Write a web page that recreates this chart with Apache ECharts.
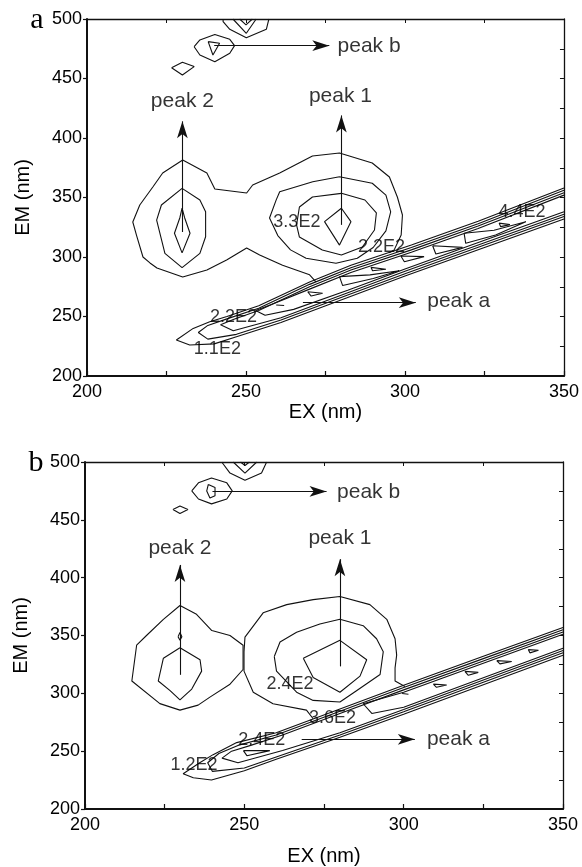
<!DOCTYPE html>
<html lang="en">
<head>
<meta charset="UTF-8">
<title>EEM contour plots</title>
<script src="https://cdn.jsdelivr.net/npm/echarts@6/dist/echarts.min.js"></script>
<style>
  html, body { margin: 0; background: #fff; }
  #chart { width: 582px; height: 867px; }
</style>
</head>
<body>
<div id="chart"></div>
<script>
// ---- axis ticks ----
var exLabels = [200, 250, 300, 350];
var emLabels = [200, 250, 300, 350, 400, 450, 500];

// ---- panel a : contour lines, [EX, EM] ----
var aBlob = [[272,279],[270,285],[261.5,293],[254.3,301.7],[250.2,307.6],[243.9,297.5],[237.7,289.1],[230.1,283.2],[222,290.8],[219.8,295],[217.6,300],[215.6,318],[214.4,329.4],[216.6,343.7],[220.7,358.8],[223.8,370.6],[230.1,381.5],[237.7,370.6],[240.2,357.1],[250.2,353.8],[252.1,360.5],[260.6,370.6],[270.9,384.9],[279.4,387.4],[289.7,379],[295.1,367.2],[297.6,350.4],[299.2,335.3],[298.8,318.5],[296.6,306],[295,303.5]];
var aP2Mid = [[229.9,357.7],[235.5,347.9],[237.3,338.1],[237.3,317],[235.5,303],[229.9,291.1],[224.5,303],[221.9,331],[223.4,343.7],[229.9,357.7]];
var aP2In = [[229.9,341],[230.7,333],[232.4,320],[229.9,303.5],[227.5,320],[229.2,333],[229.9,341]];
var aP1C2 = [[279.4,367.5],[271,363.3],[260.6,354.9],[259.5,348],[257.4,332.8],[260,318],[264,306],[268.9,298.9],[278.3,294.7],[285,299],[290,308],[294,322],[295.5,338],[294,352],[289.7,362],[279.4,367.5]];
var aP1C3 = [[280,353.5],[287.4,347.9],[291,337],[290.4,322.7],[286.6,308.4],[280,301.7],[274,305.9],[266.8,316.8],[265.9,326.9],[266.8,342],[270.9,350.4],[280,353.5]];
var aP1In = [[280,341],[283,329.7],[279.4,310],[274.7,329.7],[280,341]];
var aSpot = [[226.6,459],[230,463.6],[233.7,460],[230,453],[226.6,459]];
var aHex = [[233.7,476.7],[235.5,482.4],[240.2,487],[244.9,482.9],[246.4,477.6],[244.9,471.2],[240.2,464.1],[235.5,469.7],[233.7,476.7]];
var aHexIn = [[238.1,481],[241.7,479.6],[239.6,469.7],[238.1,481]];
var aTop1 = [[242.8,500],[242.8,497.7],[244.9,491.3],[250.1,484.3],[256.4,491.3],[257.2,500]];
var aTop2 = [[245.9,500],[250.1,488],[253.2,500]];
var aTop3 = [[248,500],[250,495],[252,500]];
var aBand1 = [[350,358],[323,330],[302,310],[283,293],[270,279],[254,259],[244,250],[238.6,245.6],[233.4,240],[228.1,230.2],[232.3,226],[240,227],[247,233],[261,245],[282,266],[300,284],[325,308],[350,332]];
var aBand2 = [[350,356],[323,328],[302,308],[283,291],[270,277],[254,257],[244,248],[238,242.5],[235,236.5],[238,231],[247,235],[261,247],[282,268],[300,286],[325,310],[350,334]];
var aBand3 = [[350,354],[323,326],[302,306],[283,289],[270,275],[254,255],[246,247.5],[242,243],[246,238],[261,249],[282,270],[300,288],[325,312],[350,336]];
var aBand4 = [[350,352],[323,324],[302,304],[283,287],[270,273],[258,260],[253,255],[256,251],[265,256],[282,272],[300,290],[325,314],[350,338]];
var aT1 = [[269.4,270.8],[274.1,269.5],[270.5,267.2],[269.4,270.8]];
var aT2 = [[289.3,291.3],[294,289.7],[289.8,288.5],[289.3,291.3]];
var aT3 = [[298.7,300.8],[306,300.3],[299.8,296],[298.7,300.8]];
var aT4 = [[308.7,309.5],[318.1,308.1],[309.7,302.5],[308.7,309.5]];
var aT6 = [[329.6,328.5],[333,327.2],[330.1,325.5],[329.6,328.5]];
var aLoop1 = [[279.4,283.5],[280.4,276],[290,282],[298.2,288.4],[289,285],[279.4,283.5]];
var aLoop2 = [[318.6,319.9],[319.1,311.5],[328.5,318.5],[338,329.7],[328,322.5],[318.6,319.9]];
var aDash = [[259.5,259.7],[262,259.2]];

// ---- panel b : contour lines, [EX, EM] ----
var bSpot = [[227.6,459],[229.8,462],[232.3,459],[229.8,455.5],[227.6,459]];
var bHex = [[233.5,475],[235.6,482],[239.7,486.2],[244.5,482],[246.2,475],[244.5,468],[239.7,463.8],[235.6,468],[233.5,475]];
var bHexIn = [[238.7,480.6],[240.8,477.9],[240.8,470.8],[239.2,468.9],[238.2,475],[238.7,480.6]];
var bTop1 = [[242.9,500],[245.5,490.4],[250.2,484.2],[255.4,490.4],[257,500]];
var bTop2 = [[246.5,500],[250.2,490.4],[253.9,500]];
var bTop3 = [[248.8,500],[250.2,497],[251.6,500]];
var bP2Out = [[229.8,375.9],[235,368.3],[239.8,354.3],[245.5,350],[249.6,341.6],[249.6,320.6],[245.5,307.9],[239.2,296.7],[235.5,289.8],[229.8,285.5],[223.5,291.1],[214.7,310.7],[216.2,341.6],[219.3,350],[224.6,364],[229.8,375.9]];
var bP2Mid = [[229.8,339.4],[236.1,329],[236.6,319.2],[233.5,303.7],[229.8,294.4],[226.7,302.3],[223,310.7],[224.6,330.4],[229.8,339.4]];
var bP2Tiny = [[229.2,349],[229.8,352.5],[230.4,349],[229.8,346],[229.2,349]];
var bP1Out = [[271.6,278],[269.5,285.5],[259,291],[252.8,301],[249.9,319.2],[249.9,336],[250.2,348.6],[255.9,369.6],[263.3,376.7],[271.6,381],[280,383.7],[289.4,376.7],[294.7,364],[297.3,347.2],[297.8,333],[297.3,322],[297.3,310.7],[300.4,306]];
var bP1C2 = [[259.4,331.8],[261.2,344.4],[266.4,352.8],[273.7,359.9],[280,364],[287.3,358.5],[291.5,347.2],[293.6,336],[292.6,316.3],[285.2,302.3],[280,292.5],[271.6,293.9],[266.4,301],[260.1,319.2],[259.4,331.8]];
var bP1In = [[268.5,330.4],[280,345.8],[288.4,329],[286.3,314.9],[280,300.9],[271.6,313.6],[268.5,330.4]];
var bBand1 = [[350,357],[325,332],[300,307],[280,286.5],[260,266],[247.6,257.4],[240.2,247],[236,240],[230.8,230.5],[234,227],[239.7,225.1],[250,233],[260,243],[280,262],[300,282],[325,307.5],[350,333]];
var bBand2 = [[350,355],[325,330],[300,305],[280,284.5],[260,264],[248,255],[242,248],[238.5,240],[240,232.5],[250,235.5],[260,245],[280,264],[300,284],[325,309.5],[350,335]];
var bBand3 = [[350,353],[325,328],[300,303],[280,282.5],[262,264],[252,255],[246,250],[243,244],[248,240],[262,250.5],[280,266],[300,286],[325,311.5],[350,337]];
var bBand4 = [[350,351],[325,326],[300,301],[287.3,291],[290,282.6],[300,288],[325,313.5],[350,339]];
var bT1 = [[249.7,250.5],[258,250.5],[250.8,246.1],[249.7,250.5]];
var bT2 = [[309.3,308],[313.5,307.2],[310.3,305.2],[309.3,308]];
var bT3 = [[319.2,319],[323.4,318.1],[320.3,315.6],[319.2,319]];
var bT4 = [[329.2,328.3],[333.9,327.5],[330.2,325.5],[329.2,328.3]];
var bT5 = [[339.1,337.8],[342.3,337.3],[339.6,335],[339.1,337.8]];
var bDash = [[299.5,299.8],[301.5,299.2]];

// ---- labels [EX, EM, text] ----
var aLevelText = [[241,223,'1.1E2'],[246.1,249.2,'2.2E2'],[266,329,'3.3E2'],[292.6,308,'2.2E2'],[336.8,337.4,'4.4E2']];
var bLevelText = [[234.2,237.6,'1.2E2'],[255.5,259.5,'2.4E2'],[277.7,278.4,'3.6E2'],[264.3,307.8,'2.4E2']];
var aPeakText = [[230,430.7,'peak 2'],[279.7,434.9,'peak 1']];
var bPeakText = [[229.8,425.9,'peak 2'],[280,433.9,'peak 1']];
var aSideText = [[278.8,477.3,'peak b'],[307,262.6,'peak a']];
var bSideText = [[279.1,474,'peak b'],[307.3,260.3,'peak a']];

// ---- arrows [from, to] ----
var aArrows = [[[230,321],[230,414]],[[280,327],[280,419]],[[240,477.6],[276.2,477.6]],[[267.9,261.6],[303.4,261.6]]];
var bArrows = [[[229.8,316],[229.8,411]],[[280,323.3],[280,416]],[[240,474.6],[275.8,474.6]],[[268,260.2],[303.5,260.2]]];

var contoursA = [aBlob, aP2Mid, aP2In, aP1C2, aP1C3, aP1In, aSpot, aHex, aHexIn, aTop1, aTop2, aTop3,
  aBand1, aBand2, aBand3, aBand4, aT1, aT2, aT3, aT4, aT6, aLoop1, aLoop2, aDash];
var contoursB = [bSpot, bHex, bHexIn, bTop1, bTop2, bTop3, bP2Out, bP2Mid, bP2Tiny, bP1Out, bP1C2, bP1In,
  bBand1, bBand2, bBand3, bBand4, bT1, bT2, bT3, bT4, bT5, bDash];

var ink = '#111';
var sans = 'Liberation Sans';

function contourSeries(list, idx) {
  return list.map(function (pts) {
    return {
      type: 'line', xAxisIndex: idx, yAxisIndex: idx, data: pts,
      symbol: 'none', showSymbol: false, silent: true, z: 3,
      lineStyle: { color: ink, width: 1.1 }
    };
  });
}

function textSeries(items, idx, size, align) {
  return {
    type: 'scatter', xAxisIndex: idx, yAxisIndex: idx, symbolSize: 0, silent: true, z: 6,
    itemStyle: { color: 'rgba(0,0,0,0)' },
    data: items.map(function (t) { return { value: [t[0], t[1]], name: t[2] }; }),
    label: {
      show: true, position: 'inside', formatter: '{b}', color: '#000',
      textBorderWidth: 0, textShadowBlur: 0,
      fontSize: size, fontFamily: sans, align: align, verticalAlign: 'middle'
    }
  };
}

function arrowSeries(list, idx) {
  return {
    type: 'line', xAxisIndex: idx, yAxisIndex: idx, data: [], silent: true,
    markLine: {
      silent: true, animation: false, symbol: ['none', 'arrow'], symbolSize: [8, 17],
      label: { show: false },
      lineStyle: { color: ink, width: 1.1, type: 'solid' },
      data: list.map(function (a) { return [{ coord: a[0] }, { coord: a[1] }]; })
    }
  };
}

function xAxes(g, gap) {
  return [{
    type: 'value', gridIndex: g, position: 'bottom', min: 200, max: 350, interval: 25,
    axisLine: { show: true, onZero: false, lineStyle: { color: ink, width: 2 } },
    axisTick: { show: true, inside: true, length: 5, lineStyle: { color: ink, width: 1.2 } },
    axisLabel: {
      color: '#000', fontSize: 18, fontFamily: sans, margin: 7,
      formatter: function (v) { return exLabels.indexOf(v) >= 0 ? String(v) : ''; }
    },
    splitLine: { show: false },
    name: 'EX (nm)', nameLocation: 'middle', nameGap: gap,
    nameTextStyle: { color: '#000', fontSize: 20, fontFamily: sans }
  }, {
    type: 'value', gridIndex: g, position: 'top', min: 200, max: 350, interval: 25,
    axisLine: { show: true, onZero: false, lineStyle: { color: ink, width: 1.3 } },
    axisTick: { show: true, inside: true, length: 4, lineStyle: { color: ink, width: 1 } },
    axisLabel: { show: false }, splitLine: { show: false }
  }];
}

function yAxes(g) {
  return [{
    type: 'value', gridIndex: g, position: 'left', min: 200, max: 500, interval: 50,
    axisLine: { show: true, onZero: false, lineStyle: { color: ink, width: 2 } },
    axisTick: { show: true, inside: false, length: 4, lineStyle: { color: ink, width: 1.2 } },
    axisLabel: {
      color: '#000', fontSize: 18, fontFamily: sans, margin: 5,
      formatter: function (v) { return emLabels.indexOf(v) >= 0 ? String(v) : ''; }
    },
    splitLine: { show: false },
    name: 'EM (nm)', nameLocation: 'middle', nameGap: 54, nameRotate: 90,
    nameTextStyle: { color: '#000', fontSize: 20, fontFamily: sans }
  }, {
    type: 'value', gridIndex: g, position: 'right', min: 200, max: 500, interval: 25,
    axisLine: { show: true, onZero: false, lineStyle: { color: ink, width: 1.3 } },
    axisTick: { show: true, inside: true, length: 4, lineStyle: { color: ink, width: 1 } },
    axisLabel: { show: false }, splitLine: { show: false }
  }];
}

var chart = echarts.init(document.getElementById('chart'), null, { renderer: 'canvas' });

var series = []
  .concat(contourSeries(contoursA, 0))
  .concat(contourSeries(contoursB, 2))
  .concat([
    arrowSeries(aArrows, 0), arrowSeries(bArrows, 2),
    textSeries(aLevelText, 0, 18, 'center'), textSeries(bLevelText, 2, 18, 'center'),
    textSeries(aPeakText, 0, 21, 'center'), textSeries(bPeakText, 2, 21, 'center'),
    textSeries(aSideText, 0, 21, 'left'), textSeries(bSideText, 2, 21, 'left')
  ]);

chart.setOption({
  animation: false,
  backgroundColor: '#fff',
  grid: [
    { left: 87, top: 19, width: 478, height: 357 },
    { left: 85, top: 462, width: 478, height: 356 }
  ],
  xAxis: xAxes(0, 26).concat(xAxes(1, 37)),
  yAxis: yAxes(0).concat(yAxes(1)),
  graphic: [
    { type: 'text', x: 37, y: 20, style: { text: 'a', font: '30px "Liberation Serif"', fill: '#000', align: 'center', verticalAlign: 'middle' } },
    { type: 'text', x: 36, y: 463, style: { text: 'b', font: '30px "Liberation Serif"', fill: '#000', align: 'center', verticalAlign: 'middle' } }
  ],
  series: series
});
</script>
</body>
</html>
